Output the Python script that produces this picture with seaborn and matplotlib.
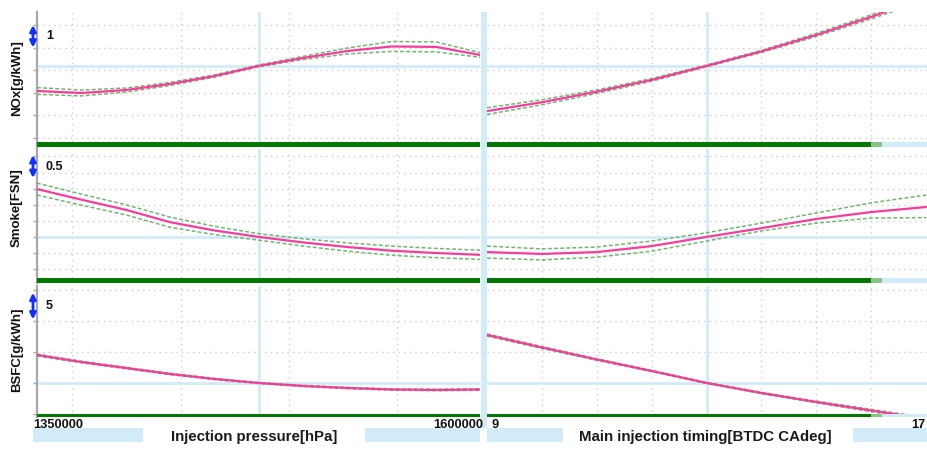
import numpy as np
import pandas as pd
import matplotlib
matplotlib.use("Agg")
import matplotlib.pyplot as plt
import seaborn as sns
from matplotlib.patches import Rectangle
from matplotlib.transforms import blended_transform_factory

sns.set_theme(style="white")
plt.rcParams['font.family'] = ['Liberation Sans', 'DejaVu Sans']

# ---- sweep variables -------------------------------------------------------
pressure_hpa = [1350000, 1375000, 1400000, 1425000, 1450000, 1475000,
                1500000, 1525000, 1550000, 1575000, 1600000]
timing_deg = [9, 10, 11, 12, 13, 14, 15, 16, 17]
current_pressure = 1475000
current_timing = 13
timing_valid_max = 16.0
timing_valid_fade = 16.2

# ---- model responses (center, upper and lower confidence) -----------------
nox_p = [6.08, 5.99, 6.12, 6.39, 6.74, 7.19, 7.54, 7.85, 8.05, 8.03, 7.67]
nox_p_hi = [6.23, 6.12, 6.21, 6.46, 6.79, 7.23, 7.61, 7.98, 8.27, 8.25, 7.77]
nox_p_lo = [5.93, 5.86, 6.03, 6.32, 6.69, 7.15, 7.47, 7.72, 7.83, 7.81, 7.57]

nox_t = [5.19, 5.58, 6.05, 6.57, 7.19, 7.83, 8.56, 9.36, 10.23]
nox_t_hi = [5.34, 5.69, 6.13, 6.63, 7.23, 7.88, 8.63, 9.45, 10.35]
nox_t_lo = [5.04, 5.47, 5.97, 6.51, 7.15, 7.78, 8.49, 9.27, 10.11]

smoke_p = [2.02, 1.79, 1.57, 1.30, 1.12, 0.98, 0.86, 0.76, 0.68, 0.63, 0.59]
smoke_p_hi = [2.15, 1.91, 1.68, 1.41, 1.21, 1.05, 0.94, 0.85, 0.78, 0.73, 0.69]
smoke_p_lo = [1.89, 1.67, 1.46, 1.19, 1.03, 0.91, 0.78, 0.67, 0.58, 0.53, 0.49]

smoke_t = [0.65, 0.61, 0.65, 0.78, 0.98, 1.17, 1.37, 1.52, 1.63]
smoke_t_hi = [0.78, 0.72, 0.76, 0.89, 1.07, 1.28, 1.50, 1.72, 1.89]
smoke_t_lo = [0.52, 0.48, 0.54, 0.67, 0.89, 1.11, 1.28, 1.39, 1.40]

bsfc_p = [215.24, 213.93, 212.81, 211.69, 210.75, 210.0, 209.44, 209.06, 208.78, 208.69, 208.78]
bsfc_p_hi = [215.42, 214.08, 212.95, 211.82, 210.87, 210.1, 209.55, 209.18, 208.91, 208.83, 208.93]
bsfc_p_lo = [215.06, 213.78, 212.67, 211.56, 210.63, 209.9, 209.33, 208.94, 208.65, 208.55, 208.63]

bsfc_t = [218.99, 216.65, 214.40, 212.25, 210.0, 208.13, 206.44, 204.85, 203.26]
bsfc_t_hi = [219.20, 216.83, 214.55, 212.37, 210.1, 208.25, 206.60, 205.07, 203.55]
bsfc_t_lo = [218.78, 216.47, 214.25, 212.13, 209.9, 208.01, 206.28, 204.63, 202.97]

# ---- labels ---------------------------------------------------------------
response_labels = ["NOx[g/kWh]", "Smoke[FSN]", "BSFC[g/kWh]"]
scale_steps = [1, 0.5, 5]
scale_texts = ["1", "0.5", "5"]
factor_labels = ["Injection pressure[hPa]", "Main injection timing[BTDC CAdeg]"]

# ---- axis ranges and grids ------------------------------------------------
y_limits = [(3.60, 9.575), (-0.022, 2.891), (203.63, 228.16)]
y_grids = [[4, 5, 6, 7, 8, 9],
           [0.28, 0.63, 0.98, 1.33, 1.68, 2.03, 2.38, 2.73],
           [204.2, 210.0, 215.8, 221.6, 227.4]]
arrow_tops = [9.0, 2.76, 226.9]
x_limits = [(1350000, 1600000), (9, 17.08)]
x_grids = [[1370000, 1431000, 1492000, 1553000],
           [10, 11, 12, 13, 14, 15, 16]]

W, H = 928, 451
LIGHT_BLUE = '#d2ebf8'
GRID = '#cdcdcd'
PINK = '#f53d9c'
BAND = '#6fb56f'
DARK_GREEN = '#007700'
PALE_GREEN = '#86c586'
ARROW = '#1030ff'
AXIS_GRAY = '#a8a8a8'
TEXT = '#111111'

col_px = [(37, 480.5), (487, 930.5)]
row_px = [(12, 147), (149, 283), (286, 417)]
bar_px = [5, 5, 3.5]


def fig_box(l, t, r, b):
    return [l / W, 1 - b / H, (r - l) / W, (b - t) / H]


fig = plt.figure(figsize=(W / 100, H / 100), dpi=100)
fig.patch.set_facecolor('white')

series = [
    [(pressure_hpa, nox_p, nox_p_hi, nox_p_lo), (timing_deg, nox_t, nox_t_hi, nox_t_lo)],
    [(pressure_hpa, smoke_p, smoke_p_hi, smoke_p_lo), (timing_deg, smoke_t, smoke_t_hi, smoke_t_lo)],
    [(pressure_hpa, bsfc_p, bsfc_p_hi, bsfc_p_lo), (timing_deg, bsfc_t, bsfc_t_hi, bsfc_t_lo)],
]
currents = [current_pressure, current_timing]

# column separator
fig.patches.append(Rectangle((481 / W, 1 - 428 / H), 6 / W, 416 / H,
                             transform=fig.transFigure, color=LIGHT_BLUE,
                             zorder=0, lw=0))

for r in range(3):
    for c in range(2):
        l, rr = col_px[c]
        t, b = row_px[r]
        ax = fig.add_axes(fig_box(l, t, rr, b))
        ax.set_facecolor('none')
        x, yc, yh, yl = series[r][c]
        df = pd.DataFrame({"x": x, "center": yc, "upper": yh, "lower": yl})

        ax.set_xlim(*x_limits[c])
        ax.set_ylim(*y_limits[r])
        ax.set_xticks(x_grids[c])
        ax.set_yticks(y_grids[r])
        ax.grid(True, color=GRID, linestyle=(0, (1, 3)), lw=1.0)
        ax.set_axisbelow(True)
        ax.tick_params(axis='x', length=0, labelbottom=False)
        for s in ['top', 'right', 'bottom']:
            ax.spines[s].set_visible(False)
        if c == 0:
            ax.spines['left'].set_color(AXIS_GRAY)
            ax.spines['left'].set_linewidth(1.6)
            ax.tick_params(axis='y', length=3, width=1, color=AXIS_GRAY,
                           direction='out', labelleft=False, left=True)
        else:
            ax.spines['left'].set_visible(False)
            ax.tick_params(axis='y', length=0, labelleft=False)

        # crosshair at the current operating point
        idx = list(x).index(currents[c])
        ax.axvline(currents[c], color=LIGHT_BLUE, lw=2.0, zorder=1)
        ax.axhline(yc[idx], color=LIGHT_BLUE, lw=2.0, zorder=1)

        # confidence bounds and model response
        for key in ["upper", "lower"]:
            sns.lineplot(data=df, x="x", y=key, ax=ax, color=BAND, lw=1.1,
                         linestyle=(0, (2.5, 1.5)), zorder=3)
        sns.lineplot(data=df, x="x", y="center", ax=ax, color=PINK, lw=1.6, zorder=4)
        ax.set_xlabel("")
        ax.set_ylabel("")

        # validity bar along the bottom
        ax_h = b - t
        bh = bar_px[r] / ax_h
        trans = blended_transform_factory(ax.transData, ax.transAxes)
        x0, x1 = x_limits[c]
        if c == 0:
            ax.add_patch(Rectangle((x0, 0), x1 - x0, bh, transform=trans,
                                   color=DARK_GREEN, lw=0, zorder=5, clip_on=False))
        else:
            ax.add_patch(Rectangle((x0, 0), x1 - x0, bh, transform=trans,
                                   color=LIGHT_BLUE, lw=0, zorder=5, clip_on=False))
            ax.add_patch(Rectangle((x0, 0), timing_valid_max - x0, bh, transform=trans,
                                   color=DARK_GREEN, lw=0, zorder=6, clip_on=False))
            ax.add_patch(Rectangle((timing_valid_max, 0), timing_valid_fade - timing_valid_max,
                                   bh, transform=trans, color=PALE_GREEN, lw=0,
                                   zorder=6, clip_on=False))

        if c == 0:
            # scale arrow and its step value
            ax_w = rr - l
            tr = blended_transform_factory(ax.transAxes, ax.transData)
            top = arrow_tops[r]
            ax.annotate("", xy=(-4 / ax_w, top - scale_steps[r]), xytext=(-4 / ax_w, top),
                        xycoords=tr, textcoords=tr, annotation_clip=False,
                        arrowprops=dict(arrowstyle='<|-|>', color=ARROW, lw=2.0,
                                        mutation_scale=9, shrinkA=0, shrinkB=0),
                        zorder=7)
            ax.text(9 / ax_w, top - scale_steps[r] / 2, scale_texts[r], transform=tr,
                    fontsize=9, fontweight='bold', color=TEXT,
                    ha='left', va='center', zorder=7)

# response labels
label_y = [78, 208, 350]
for r in range(3):
    fig.text(17 / W, 1 - label_y[r] / H, response_labels[r], rotation=90,
             ha='center', va='center', fontsize=9.5, fontweight='bold', color=TEXT)

# slider tracks under the factor names
for (x0, x1) in [(33, 143), (365, 480), (487, 563), (853, 928)]:
    fig.patches.append(Rectangle((x0 / W, 1 - 442 / H), (x1 - x0) / W, 14 / H,
                                 transform=fig.transFigure, color=LIGHT_BLUE,
                                 lw=0, zorder=0))

# range end labels
tick_y = 1 - 425 / H
fig.text(33 / W, tick_y, f"{x_limits[0][0]}", ha='left', va='center',
         fontsize=9.3, fontweight='bold', color=TEXT)
fig.text(483 / W, tick_y, f"{x_limits[0][1]}", ha='right', va='center',
         fontsize=9.3, fontweight='bold', color=TEXT)
fig.text(492 / W, tick_y, f"{timing_deg[0]}", ha='left', va='center',
         fontsize=9.3, fontweight='bold', color=TEXT)
fig.text(926 / W, tick_y, f"{timing_deg[-1]}", ha='right', va='center',
         fontsize=9.3, fontweight='bold', color=TEXT)

# factor names
fig.text(254 / W, 1 - 437 / H, factor_labels[0], ha='center', va='center',
         fontsize=10.8, fontweight='bold', color='#1a1a1a')
fig.text(705 / W, 1 - 437 / H, factor_labels[1], ha='center', va='center',
         fontsize=10.8, fontweight='bold', color='#1a1a1a')

fig.savefig("out.png", dpi=100, facecolor='white')
